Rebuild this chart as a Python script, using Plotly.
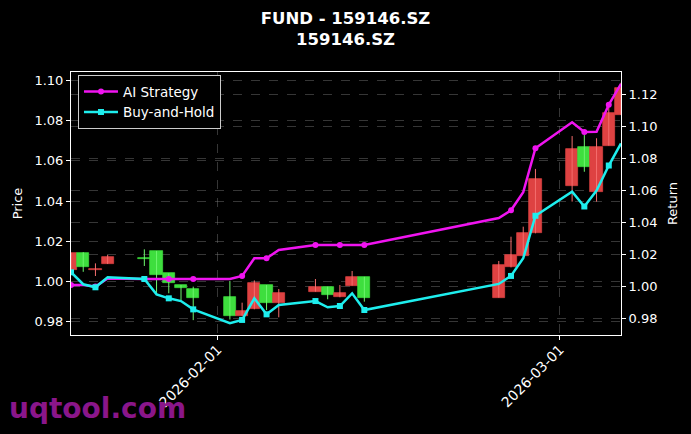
import plotly.graph_objects as go

# ---------------- data ----------------
dates = ['2026-01-20', '2026-01-21', '2026-01-22', '2026-01-23',
         '2026-01-26', '2026-01-27', '2026-01-28', '2026-01-29', '2026-01-30',
         '2026-02-02', '2026-02-03', '2026-02-04', '2026-02-05', '2026-02-06',
         '2026-02-09', '2026-02-10', '2026-02-11', '2026-02-12', '2026-02-13',
         '2026-02-24', '2026-02-25', '2026-02-26', '2026-02-27',
         '2026-03-02', '2026-03-03', '2026-03-04', '2026-03-05', '2026-03-06']

open_p = [1.0056, 1.0142, 1.0058, 1.0086,
          1.0115, 1.0151, 1.0039, 0.9981, 0.9963,
          0.9921, 0.9826, 0.9860, 0.9981, 0.9890,
          0.9948, 0.9973, 0.9920, 0.9978, 1.0022,
          0.9918, 1.0069, 1.0127, 1.0239,
          1.0475, 1.0668, 1.0446, 1.0676, 1.0829]
high_p = [1.0142, 1.0145, 1.0089, 1.0131,
          1.0159, 1.0151, 1.0039, 0.9981, 0.9973,
          1.0001, 0.9893, 1.0004, 0.9981, 0.9961,
          1.0011, 0.9973, 0.9981, 1.0051, 1.0022,
          1.0101, 1.0222, 1.0272, 1.0560,
          1.0724, 1.0729, 1.0713, 1.0887, 1.0990]
low_p = [1.0052, 1.0047, 1.0026, 1.0086,
         1.0076, 0.9940, 0.9940, 0.9906, 0.9806,
         0.9809, 0.9826, 0.9860, 0.9856, 0.9820,
         0.9948, 0.9910, 0.9920, 0.9978, 0.9898,
         0.9918, 1.0069, 1.0127, 1.0239,
         1.0397, 1.0546, 1.0397, 1.0676, 1.0829]
close_p = [1.0139, 1.0069, 1.0060, 1.0119,
           1.0113, 1.0031, 0.9990, 0.9968, 0.9918,
           0.9826, 0.9851, 0.9993, 0.9890, 0.9943,
           0.9973, 0.9930, 0.9941, 1.0022, 0.9918,
           1.0081, 1.0131, 1.0242, 1.0510,
           1.0659, 1.0568, 1.0671, 1.0837, 1.0962]

ai_strategy = [1.0006, 1.0006, 0.9997, 1.0047,
               1.0044, 1.0044, 1.0044, 1.0044, 1.0044,
               1.0044, 1.0063, 1.0173, 1.0173, 1.0225,
               1.0256, 1.0256, 1.0256, 1.0256, 1.0256,
               1.0425, 1.0473, 1.0586, 1.0861,
               1.1023, 1.0963, 1.0964, 1.1133, 1.1264]
buy_hold = [1.0086, 1.0011, 0.9992, 1.0054,
            1.0044, 0.9948, 0.9923, 0.9906, 0.9854,
            0.9767, 0.9788, 0.9923, 0.9823, 0.9881,
            0.9906, 0.9867, 0.9875, 0.9954, 0.9850,
            1.0013, 1.0063, 1.0173, 1.0439,
            1.0589, 1.0497, 1.0597, 1.0753, 1.0891]

title_lines = ['FUND - 159146.SZ', '159146.SZ']
price_ticks = [0.98, 1.00, 1.02, 1.04, 1.06, 1.08, 1.10]
return_ticks = [0.98, 1.00, 1.02, 1.04, 1.06, 1.08, 1.10, 1.12]
date_ticks = ['2026-02-01', '2026-03-01']

# ---------------- styling ----------------
RED_BODY = 'rgb(222,66,66)'
GREEN_BODY = 'rgb(62,222,62)'
RED_WICK = 'rgb(245,110,110)'
GREEN_WICK = 'rgb(110,245,110)'
MAGENTA = 'rgb(240,20,240)'
CYAN = 'rgb(30,238,238)'
CLEAR = 'rgba(0,0,0,0)'
DAY_MS = 86400000
FONT = 'DejaVu Sans'
GRID = 'rgba(128,128,128,0.42)'

is_up = [c >= o for o, c in zip(open_p, close_p)]
body_colors = [RED_BODY if u else GREEN_BODY for u in is_up]

fig = go.Figure()

# candle bodies
fig.add_trace(go.Bar(
    x=dates,
    y=[c - o for o, c in zip(open_p, close_p)],
    base=open_p,
    width=DAY_MS * 1.0,
    marker=dict(color=body_colors, line=dict(color=body_colors, width=0.7)),
    showlegend=False, hoverinfo='skip', yaxis='y'))

# wicks
for flag, col in ((True, RED_WICK), (False, GREEN_WICK)):
    wx, wy = [], []
    for d, h, l, u in zip(dates, high_p, low_p, is_up):
        if u == flag:
            wx += [d, d, None]
            wy += [l, h, None]
    fig.add_trace(go.Scatter(x=wx, y=wy, mode='lines',
                             line=dict(color=col, width=1),
                             showlegend=False, hoverinfo='skip', yaxis='y'))

# markers on every other point (like markevery=2)
mag_marks = [MAGENTA if i % 2 == 0 else CLEAR for i in range(len(dates))]
cyan_marks = [CYAN if i % 2 == 0 else CLEAR for i in range(len(dates))]

fig.add_trace(go.Scatter(
    x=dates, y=ai_strategy, name='AI Strategy', mode='lines+markers',
    line=dict(color=MAGENTA, width=2.5),
    marker=dict(symbol='circle', size=6, color=mag_marks, line=dict(width=0)),
    yaxis='y2'))
fig.add_trace(go.Scatter(
    x=dates, y=buy_hold, name='Buy-and-Hold', mode='lines+markers',
    line=dict(color=CYAN, width=2.5),
    marker=dict(symbol='square', size=6, color=cyan_marks, line=dict(width=0)),
    yaxis='y2'))

axis_common = dict(
    showline=True, linecolor='white', linewidth=1,
    ticks='outside', ticklen=4, tickcolor='white', tickwidth=1,
    tickfont=dict(color='white', size=13, family=FONT),
    showgrid=True, gridcolor=GRID, griddash='dash', gridwidth=0.8,
    zeroline=False, automargin=False)

x_common = dict(axis_common)
x_common['tickfont'] = dict(color='white', size=14, family=FONT)

fig.update_layout(
    width=691, height=434,
    paper_bgcolor='black', plot_bgcolor='black',
    margin=dict(l=71, r=70, t=72, b=99, autoexpand=False),
    font=dict(family=FONT, color='white', size=13),
    title=dict(text='<br>'.join('<b>%s</b>' % t for t in title_lines),
               x=0.5, xanchor='center', xref='container',
               y=1 - 24 / 434, yanchor='top', yref='container',
               font=dict(size=16.5, color='white', family=FONT)),
    bargap=0,
    xaxis=dict(type='date', range=['2026-01-20', '2026-03-06'],
               tickvals=date_ticks, tickformat='%Y-%m-%d', tickangle=-45,
               ticklabelstandoff=-4, mirror=True, **x_common),
    yaxis=dict(range=[0.97318, 1.10434], tickvals=price_ticks, tickformat='.2f',
               title=dict(text='Price', font=dict(size=13, color='white'), standoff=8),
               side='left', mirror=False, **axis_common),
    yaxis2=dict(range=[0.96938, 1.13375], tickvals=return_ticks, tickformat='.2f',
                title=dict(text='Return', font=dict(size=13, color='white'), standoff=11),
                side='right', overlaying='y', **axis_common),
    legend=dict(x=0.0127, y=0.988, xanchor='left', yanchor='top',
                bgcolor='black', bordercolor='#cccccc', borderwidth=1,
                font=dict(size=13.5, color='white', family=FONT),
                itemwidth=34, tracegroupgap=2),
    showlegend=True,
)

fig.add_annotation(text='<b>uqtool.com</b>', xref='paper', yref='paper',
                   x=(7 - 71) / 550, y=(335 - 408) / 263,
                   xanchor='left', yanchor='middle', showarrow=False,
                   font=dict(size=28, color='rgb(138,22,138)', family=FONT))

fig.write_html('out.html',
               config={'displayModeBar': False},
               post_script="document.documentElement.style.background='black';"
                           "document.body.style.margin='0';"
                           "document.body.style.background='black';")
